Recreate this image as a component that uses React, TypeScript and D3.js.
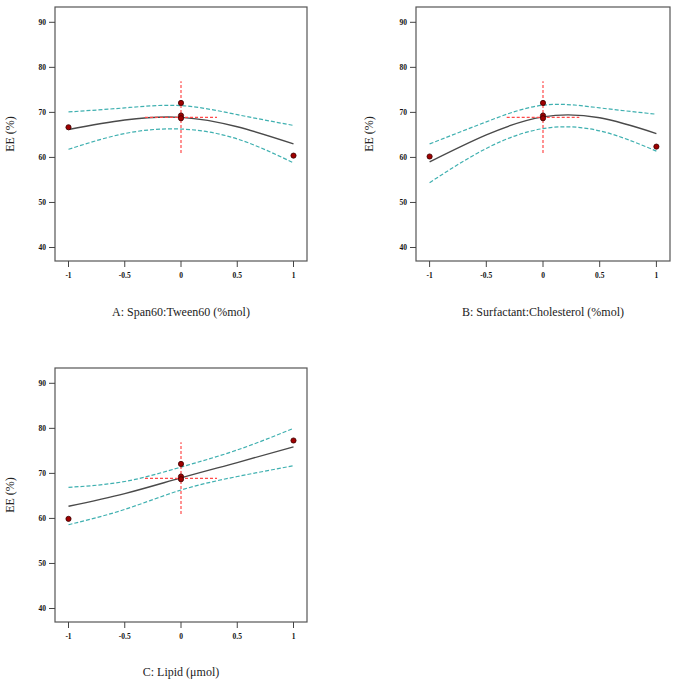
import React from "react";
import * as d3 from "d3";

// ---- data ----
const gridX = [-1, -0.5, 0, 0.5, 1];
const xTicks = [-1, -0.5, 0, 0.5, 1];
const xTickLabels = ["-1", "-0.5", "0", "0.5", "1"];
const yTicks = [40, 50, 60, 70, 80, 90];

const designX = [-1, 0, 0, 0, 1];

const aLabel = "A: Span60:Tween60 (%mol)";
const aFit = [66.2, 68.3, 68.9, 66.8, 63.0];
const aUpper = [70.1, 71.0, 71.5, 69.5, 67.1];
const aLower = [61.8, 65.3, 66.3, 64.1, 58.8];
const aPoints = [66.7, 72.1, 69.3, 68.7, 60.4];

const bLabel = "B: Surfactant:Cholesterol (%mol)";
const bFit = [59.0, 65.0, 69.0, 68.8, 65.3];
const bUpper = [63.0, 67.9, 71.6, 71.0, 69.6];
const bLower = [54.4, 62.0, 66.4, 65.9, 61.4];
const bPoints = [60.2, 72.1, 69.3, 68.7, 62.4];

const cLabel = "C: Lipid (μmol)";
const cFit = [62.7, 65.5, 69.0, 72.4, 75.9];
const cUpper = [66.9, 68.2, 71.4, 75.2, 80.0];
const cLower = [58.6, 62.0, 66.3, 69.3, 71.7];
const cPoints = [59.9, 72.1, 69.3, 68.7, 77.3];

const crossCenter = 68.9;
const crossYRange = [61.0, 76.9];
const crossXRange = [-0.32, 0.32];

const yLabel = "EE (%)";

const FONT = "'Liberation Serif', 'Times New Roman', serif";
const CYAN = "#3fb0b0";
const RED = "#ff4a4a";

type PanelProps = {
  left: number; right: number; top: number; bottom: number;
  fit: number[]; upper: number[]; lower: number[]; points: number[];
  xLabel: string; yLabelX: number; xLabelY: number;
};

function Panel(p: PanelProps) {
  const x = d3.scaleLinear().domain([-1.12, 1.12]).range([p.left, p.right]);
  const y = d3.scaleLinear().domain([37, 93.4]).range([p.bottom, p.top]);
  const line = d3
    .line<[number, number]>()
    .x((d) => x(d[0]))
    .y((d) => y(d[1]))
    .curve(d3.curveNatural);
  const pts = (vals: number[]) => gridX.map((gx, i) => [gx, vals[i]] as [number, number]);
  const cx = (p.left + p.right) / 2;
  const cy = (p.top + p.bottom) / 2;
  return (
    <g>
      <rect x={p.left} y={p.top} width={p.right - p.left} height={p.bottom - p.top}
        fill="white" stroke="#555" strokeWidth={1.2} />
      {yTicks.map((t) => (
        <g key={"y" + t}>
          <line x1={p.left - 6} x2={p.left} y1={y(t)} y2={y(t)} stroke="#444" strokeWidth={1} />
          <text x={p.left - 9} y={y(t)} dy="0.35em" textAnchor="end" fontSize={7.5}
            fontWeight={600} fontFamily={FONT} fill="#111">{t}</text>
        </g>
      ))}
      {xTicks.map((t, i) => (
        <g key={"x" + t}>
          <line x1={x(t)} x2={x(t)} y1={p.bottom} y2={p.bottom + 6} stroke="#444" strokeWidth={1} />
          <text x={x(t)} y={p.bottom + 17} textAnchor="middle" fontSize={7.5}
            fontWeight={600} fontFamily={FONT} fill="#111">{xTickLabels[i]}</text>
        </g>
      ))}
      <path d={line(pts(p.upper)) || ""} fill="none" stroke={CYAN} strokeWidth={1.2} strokeDasharray="4,2" />
      <path d={line(pts(p.lower)) || ""} fill="none" stroke={CYAN} strokeWidth={1.2} strokeDasharray="4,2" />
      <path d={line(pts(p.fit)) || ""} fill="none" stroke="#4a4a4a" strokeWidth={1.4} />
      <line x1={x(0)} x2={x(0)} y1={y(crossYRange[0])} y2={y(crossYRange[1])}
        stroke={RED} strokeWidth={1.2} strokeDasharray="3,2" />
      <line x1={x(crossXRange[0])} x2={x(crossXRange[1])} y1={y(crossCenter)} y2={y(crossCenter)}
        stroke={RED} strokeWidth={1.2} strokeDasharray="3,2" />
      {p.points.map((v, i) => (
        <circle key={"p" + i} cx={x(designX[i])} cy={y(v)} r={2.6}
          fill="#a00000" stroke="#3a0000" strokeWidth={0.8} />
      ))}
      <text x={cx} y={p.xLabelY} textAnchor="middle" fontSize={12} fontFamily={FONT} fill="#222">
        {p.xLabel}
      </text>
      <text transform={`translate(${p.yLabelX},${cy}) rotate(-90)`} textAnchor="middle"
        fontSize={12} fontFamily={FONT} fill="#222">{yLabel}</text>
    </g>
  );
}

export default function App() {
  return (
    <svg width={685} height={681} style={{ position: "absolute", left: 0, top: 0, background: "white" }}>
      <rect x={0} y={0} width={685} height={681} fill="white" />
      <Panel left={55} right={307} top={7} bottom={261} fit={aFit} upper={aUpper} lower={aLower}
        points={aPoints} xLabel={aLabel} yLabelX={14} xLabelY={316} />
      <Panel left={416} right={670} top={7} bottom={261} fit={bFit} upper={bUpper} lower={bLower}
        points={bPoints} xLabel={bLabel} yLabelX={373} xLabelY={316} />
      <Panel left={55} right={307} top={368} bottom={622} fit={cFit} upper={cUpper} lower={cLower}
        points={cPoints} xLabel={cLabel} yLabelX={14} xLabelY={676} />
    </svg>
  );
}
